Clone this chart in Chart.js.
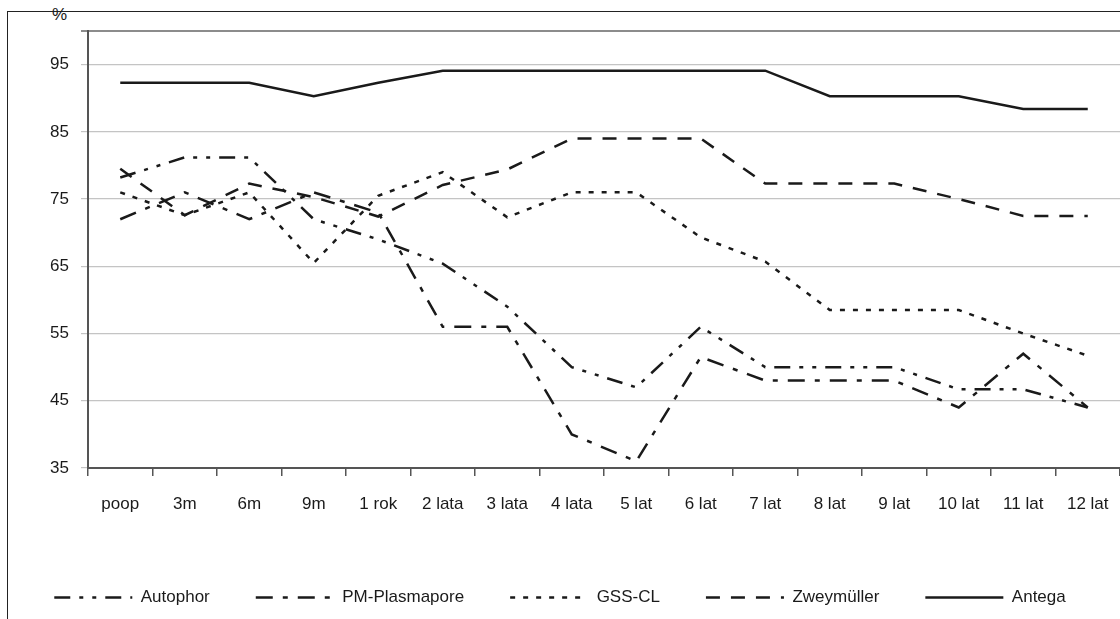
<!DOCTYPE html>
<html>
<head>
<meta charset="utf-8">
<script src="https://cdn.jsdelivr.net/npm/chart.js@4.4.1/dist/chart.umd.min.js"></script>
<style>
    body { margin: 0; background: #fff; overflow: hidden; }
    .wrap { position: relative; width: 1120px; height: 619px; }
    .frame { position: absolute; left: 7px; top: 11px; width: 1200px; height: 700px;
             border-left: 1px solid #222; border-top: 1px solid #222; }
    .unit { position: absolute; left: 52px; top: 5px; font: 17px "Liberation Sans", Arial, sans-serif; color: #1a1a1a; }
    canvas { position: absolute; left: 0; top: 0; }
</style>
</head>
<body>
<div class="wrap">
    <div class="frame"></div>
    <span class="unit">%</span>
    <canvas id="chart" width="1120" height="619"></canvas>
</div>
<script>
// dane wykresu
const categories = ['poop', '3m', '6m', '9m', '1 rok', '2 lata', '3 lata', '4 lata', '5 lat', '6 lat', '7 lat', '8 lat', '9 lat', '10 lat', '11 lat', '12 lat'];
const autophor   = [78.2, 81.2, 81.2, 72.0, 69.0, 65.4, 59.0, 50.0, 47.0, 56.0, 50.0, 50.0, 50.0, 46.7, 46.7, 44.0];
const plasmapore = [72.0, 76.0, 72.0, 76.0, 73.0, 56.0, 56.0, 40.0, 36.0, 51.5, 48.0, 48.0, 48.0, 44.0, 52.0, 44.0];
const gssCl      = [76.0, 72.6, 76.0, 65.5, 75.5, 79.0, 72.3, 76.0, 76.0, 69.3, 65.7, 58.5, 58.5, 58.5, 55.0, 51.7];
const zweymuller = [79.5, 72.6, 77.3, 75.3, 72.4, 77.1, 79.4, 84.0, 84.0, 84.0, 77.3, 77.3, 77.3, 75.0, 72.5, 72.5];
const antega     = [92.3, 92.3, 92.3, 90.3, 92.3, 94.1, 94.1, 94.1, 94.1, 94.1, 94.1, 90.3, 90.3, 90.3, 88.4, 88.4];
const yTicks = [35, 45, 55, 65, 75, 85, 95, 100];

const font = { family: '"Liberation Sans", Arial, sans-serif', size: 17 };
const ink = '#1a1a1a';

const series = (label, data, dash) => ({
    label, data,
    borderColor: ink,
    backgroundColor: ink,
    borderWidth: 2.5,
    borderDash: dash,
    pointRadius: 0,
    tension: 0,
    fill: false
});

// legenda: stała wysokość (odstępy poziome większe niż pionowe)
const legendHeight = {
    id: 'legendHeight',
    beforeLayout(chart) {
        const lg = chart.legend;
        if (lg && !lg._fixed) {
            const fit = lg.fit;
            lg.fit = function () { fit.call(this); this.height = 76; };
            lg._fixed = true;
        }
    }
};

new Chart(document.getElementById('chart'), {
    type: 'line',
    data: {
        labels: categories,
        datasets: [
            series('Autophor', autophor, [16, 9, 4, 9, 4, 9]),
            series('PM-Plasmapore', plasmapore, [17, 10, 5, 10]),
            series('GSS-CL', gssCl, [5, 8]),
            series('Zweymüller', zweymuller, [14, 11]),
            series('Antega', antega, [])
        ]
    },
    options: {
        responsive: false,
        animation: false,
        layout: { padding: { left: 0, top: 31, right: 0, bottom: 0 } },
        scales: {
            x: {
                offset: true,
                grid: { offset: true, drawOnChartArea: false, tickLength: 8, color: '#555', lineWidth: 1.5 },
                border: { color: '#555', width: 2 },
                ticks: { font, color: ink, padding: 18, maxRotation: 0, autoSkip: false },
                afterFit: (s) => { s.height = 75; s.paddingLeft = 0; s.paddingRight = 0; }
            },
            y: {
                min: 35,
                max: 100,
                afterBuildTicks: (s) => { s.ticks = yTicks.map(v => ({ value: v })); },
                grid: {
                    tickLength: 7,
                    color: (c) => c.tick && c.tick.value === 100 ? '#8c8c8c' : '#c4c4c4',
                    lineWidth: (c) => c.tick && c.tick.value === 100 ? 2 : 1.2
                },
                border: { color: '#555', width: 2 },
                ticks: {
                    font, color: ink, padding: 12,
                    callback: (v) => v === 100 ? '' : v
                },
                afterFit: (s) => { s.width = 88; }
            }
        },
        plugins: {
            legend: {
                position: 'bottom',
                labels: {
                    font, color: ink,
                    usePointStyle: true,
                    pointStyle: 'line',
                    pointStyleWidth: 78,
                    padding: 46,
                    generateLabels: (chart) => {
                        const items = Chart.defaults.plugins.legend.labels.generateLabels(chart);
                        items.forEach(it => {
                            const ds = chart.data.datasets[it.datasetIndex];
                            it.lineDash = ds.borderDash;
                            it.lineWidth = 2.5;
                            it.strokeStyle = ink;
                        });
                        return items;
                    }
                }
            },
            tooltip: { enabled: false }
        }
    },
    plugins: [legendHeight]
});
</script>
</body>
</html>
